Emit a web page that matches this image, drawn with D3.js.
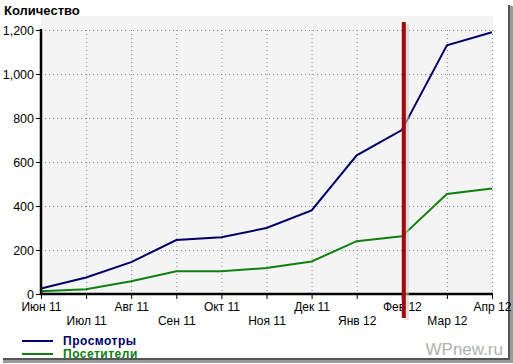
<!DOCTYPE html>
<html>
<head>
<meta charset="utf-8">
<script src="https://cdn.jsdelivr.net/npm/d3@7"></script>
<style>
  html, body { margin: 0; padding: 0; background: #fff; }
  svg { display: block; font-family: Arial, "Liberation Sans", sans-serif; }
</style>
</head>
<body>
<div id="chart"></div>
<script>
const months = ['Июн 11', 'Июл 11', 'Авг 11', 'Сен 11', 'Окт 11', 'Ноя 11',
  'Дек 11', 'Янв 12', 'Фев 12', 'Мар 12', 'Апр 12'];
const views = [25, 75, 145, 245, 258, 300, 380, 630, 745, 1130, 1190];
const visitors = [12, 22, 58, 103, 103, 118, 148, 240, 262, 455, 480];
const yTicks = [0, 200, 400, 600, 800, 1000, 1200];
const markerMonth = 'Фев 12';

const width = 513;
const height = 364;
const viewsColour = '#000066';
const visitorsColour = '#108010';
const markerColour = '#a00a0a';

const svg = d3.select('#chart').append('svg')
  .attr('width', width)
  .attr('height', height);

// screenshot frame with shadow
svg.append('rect').attr('x', 3).attr('y', 359).attr('width', 509).attr('height', 4).attr('fill', '#9a9a9a');
svg.append('rect').attr('x', 3).attr('y', 358).attr('width', 507).attr('height', 2).attr('fill', '#555');
svg.append('rect').attr('x', 510).attr('y', 6).attr('width', 3).attr('height', 357).attr('fill', '#9a9a9a');
svg.append('rect').attr('x', 508).attr('y', 5).attr('width', 2).attr('height', 355).attr('fill', '#555');

const x = d3.scalePoint().domain(months).range([41, 492]);
const y = d3.scaleLinear().domain([0, 1200]).range([294, 30]);

// plot background
svg.append('rect')
  .attr('x', 41).attr('y', 16)
  .attr('width', 452).attr('height', 278)
  .attr('fill', '#f4f4f4');

// grid
const g = svg.append('g');
g.selectAll('.hgrid')
  .data(yTicks.filter(d => d > 0))
  .enter().append('line')
  .attr('x1', 41).attr('x2', 492)
  .attr('y1', d => y(d) + 0.5).attr('y2', d => y(d) + 0.5)
  .attr('stroke', '#888').attr('stroke-dasharray', '1,3');
g.selectAll('.vgrid')
  .data(months.slice(1))
  .enter().append('line')
  .attr('x1', d => x(d) + 0.5).attr('x2', d => x(d) + 0.5)
  .attr('y1', y(1200)).attr('y2', 294)
  .attr('stroke', '#888').attr('stroke-dasharray', '1,3');

// lines
const line = d3.line().x((d, i) => x(months[i])).y(d => y(d));
svg.append('path').datum(visitors)
  .attr('d', line).attr('fill', 'none')
  .attr('stroke', visitorsColour).attr('stroke-width', 2);
svg.append('path').datum(views)
  .attr('d', line).attr('fill', 'none')
  .attr('stroke', viewsColour).attr('stroke-width', 2);

// axes
const yAxis = svg.append('g')
  .attr('transform', 'translate(41,0)')
  .call(d3.axisLeft(y).tickValues(yTicks).tickSize(5).tickPadding(2).tickFormat(d3.format(',')));
yAxis.select('.domain').remove();
yAxis.selectAll('line').attr('stroke', '#000');
yAxis.selectAll('text').attr('font-size', 12.5).attr('fill', '#000');

const xAxis = svg.append('g')
  .attr('transform', 'translate(0,294)')
  .call(d3.axisBottom(x).tickSize(5).tickPadding(3));
xAxis.select('.domain').remove();
xAxis.selectAll('line').attr('stroke', '#000').attr('stroke-width', 1);
xAxis.selectAll('text')
  .attr('font-size', 12).attr('fill', '#000')
  .attr('dy', (d, i) => i % 2 ? '1.95em' : '0.75em');

svg.append('line').attr('x1', 41).attr('x2', 41).attr('y1', 29).attr('y2', 295)
  .attr('stroke', '#000').attr('stroke-width', 2.5);
svg.append('line').attr('x1', 40).attr('x2', 493).attr('y1', 294).attr('y2', 294)
  .attr('stroke', '#000').attr('stroke-width', 2.5);

// marker line with shadow
const mx = x(markerMonth) + 2;
svg.append('rect').attr('x', mx + 1).attr('y', 24).attr('width', 4).attr('height', 296)
  .attr('fill', '#ccc').attr('opacity', 0.6);
svg.append('rect').attr('x', mx - 2).attr('y', 22).attr('width', 4).attr('height', 296)
  .attr('fill', markerColour);

// title
svg.append('text').attr('x', 4).attr('y', 15)
  .attr('font-size', 13).attr('font-weight', 'bold').text('Количество');

// legend
const legend = [['Просмотры', viewsColour], ['Посетители', visitorsColour]];
const lg = svg.selectAll('.legend').data(legend).enter().append('g')
  .attr('transform', (d, i) => `translate(0,${341 + i * 13})`);
lg.append('line').attr('x1', 22).attr('x2', 53).attr('y1', 0).attr('y2', 0)
  .attr('stroke', d => d[1]).attr('stroke-width', 2);
lg.append('text').attr('x', 63).attr('y', 4)
  .attr('font-size', 12).attr('font-weight', 'bold').attr('letter-spacing', 0.5)
  .attr('fill', d => d[1]).text(d => d[0]);

// watermark
svg.append('text').attr('x', 503).attr('y', 355).attr('text-anchor', 'end')
  .attr('font-size', 17).attr('fill', '#b0b0b0').text('WPnew.ru');
</script>
</body>
</html>
